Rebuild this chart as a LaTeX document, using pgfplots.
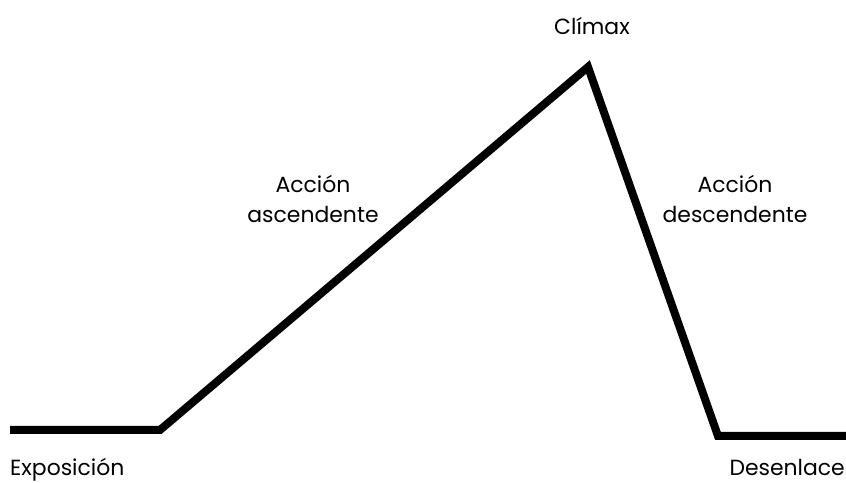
\documentclass[border=0pt]{standalone}
\usepackage{pgfplots}
\pgfplotsset{compat=1.18}
\usepackage{fontspec}
\setmainfont{Poppins}
\begin{document}
\begin{tikzpicture}
\begin{axis}[
  scale only axis, width=846bp, height=483bp,
  xmin=0, xmax=846, ymin=0, ymax=483,
  hide axis, clip=false,
]
\addplot[black, line width=8bp, line join=miter, line cap=butt] coordinates {
  (10,53) (160,53) (588,416) (718,47) (846,47)
};
\node[anchor=base, inner sep=0pt, font=\fontsize{22}{26}\selectfont] at (axis cs:592,448) {Clímax};
\node[anchor=base, inner sep=0pt, font=\fontsize{22}{26}\selectfont] at (axis cs:313,290) {Acción};
\node[anchor=base, inner sep=0pt, font=\fontsize{22}{26}\selectfont] at (axis cs:313,260) {ascendente};
\node[anchor=base, inner sep=0pt, font=\fontsize{22}{26}\selectfont] at (axis cs:735,290) {Acción};
\node[anchor=base, inner sep=0pt, font=\fontsize{22}{26}\selectfont] at (axis cs:735,260) {descendente};
\node[anchor=base west, inner sep=0pt, font=\fontsize{22}{26}\selectfont] at (axis cs:10,8) {Exposición};
\node[anchor=base east, inner sep=0pt, font=\fontsize{22}{26}\selectfont] at (axis cs:845,8) {Desenlace};
\end{axis}
\pgfresetboundingbox
\path (0,0) rectangle (846bp,483bp);
\end{tikzpicture}
\end{document}
